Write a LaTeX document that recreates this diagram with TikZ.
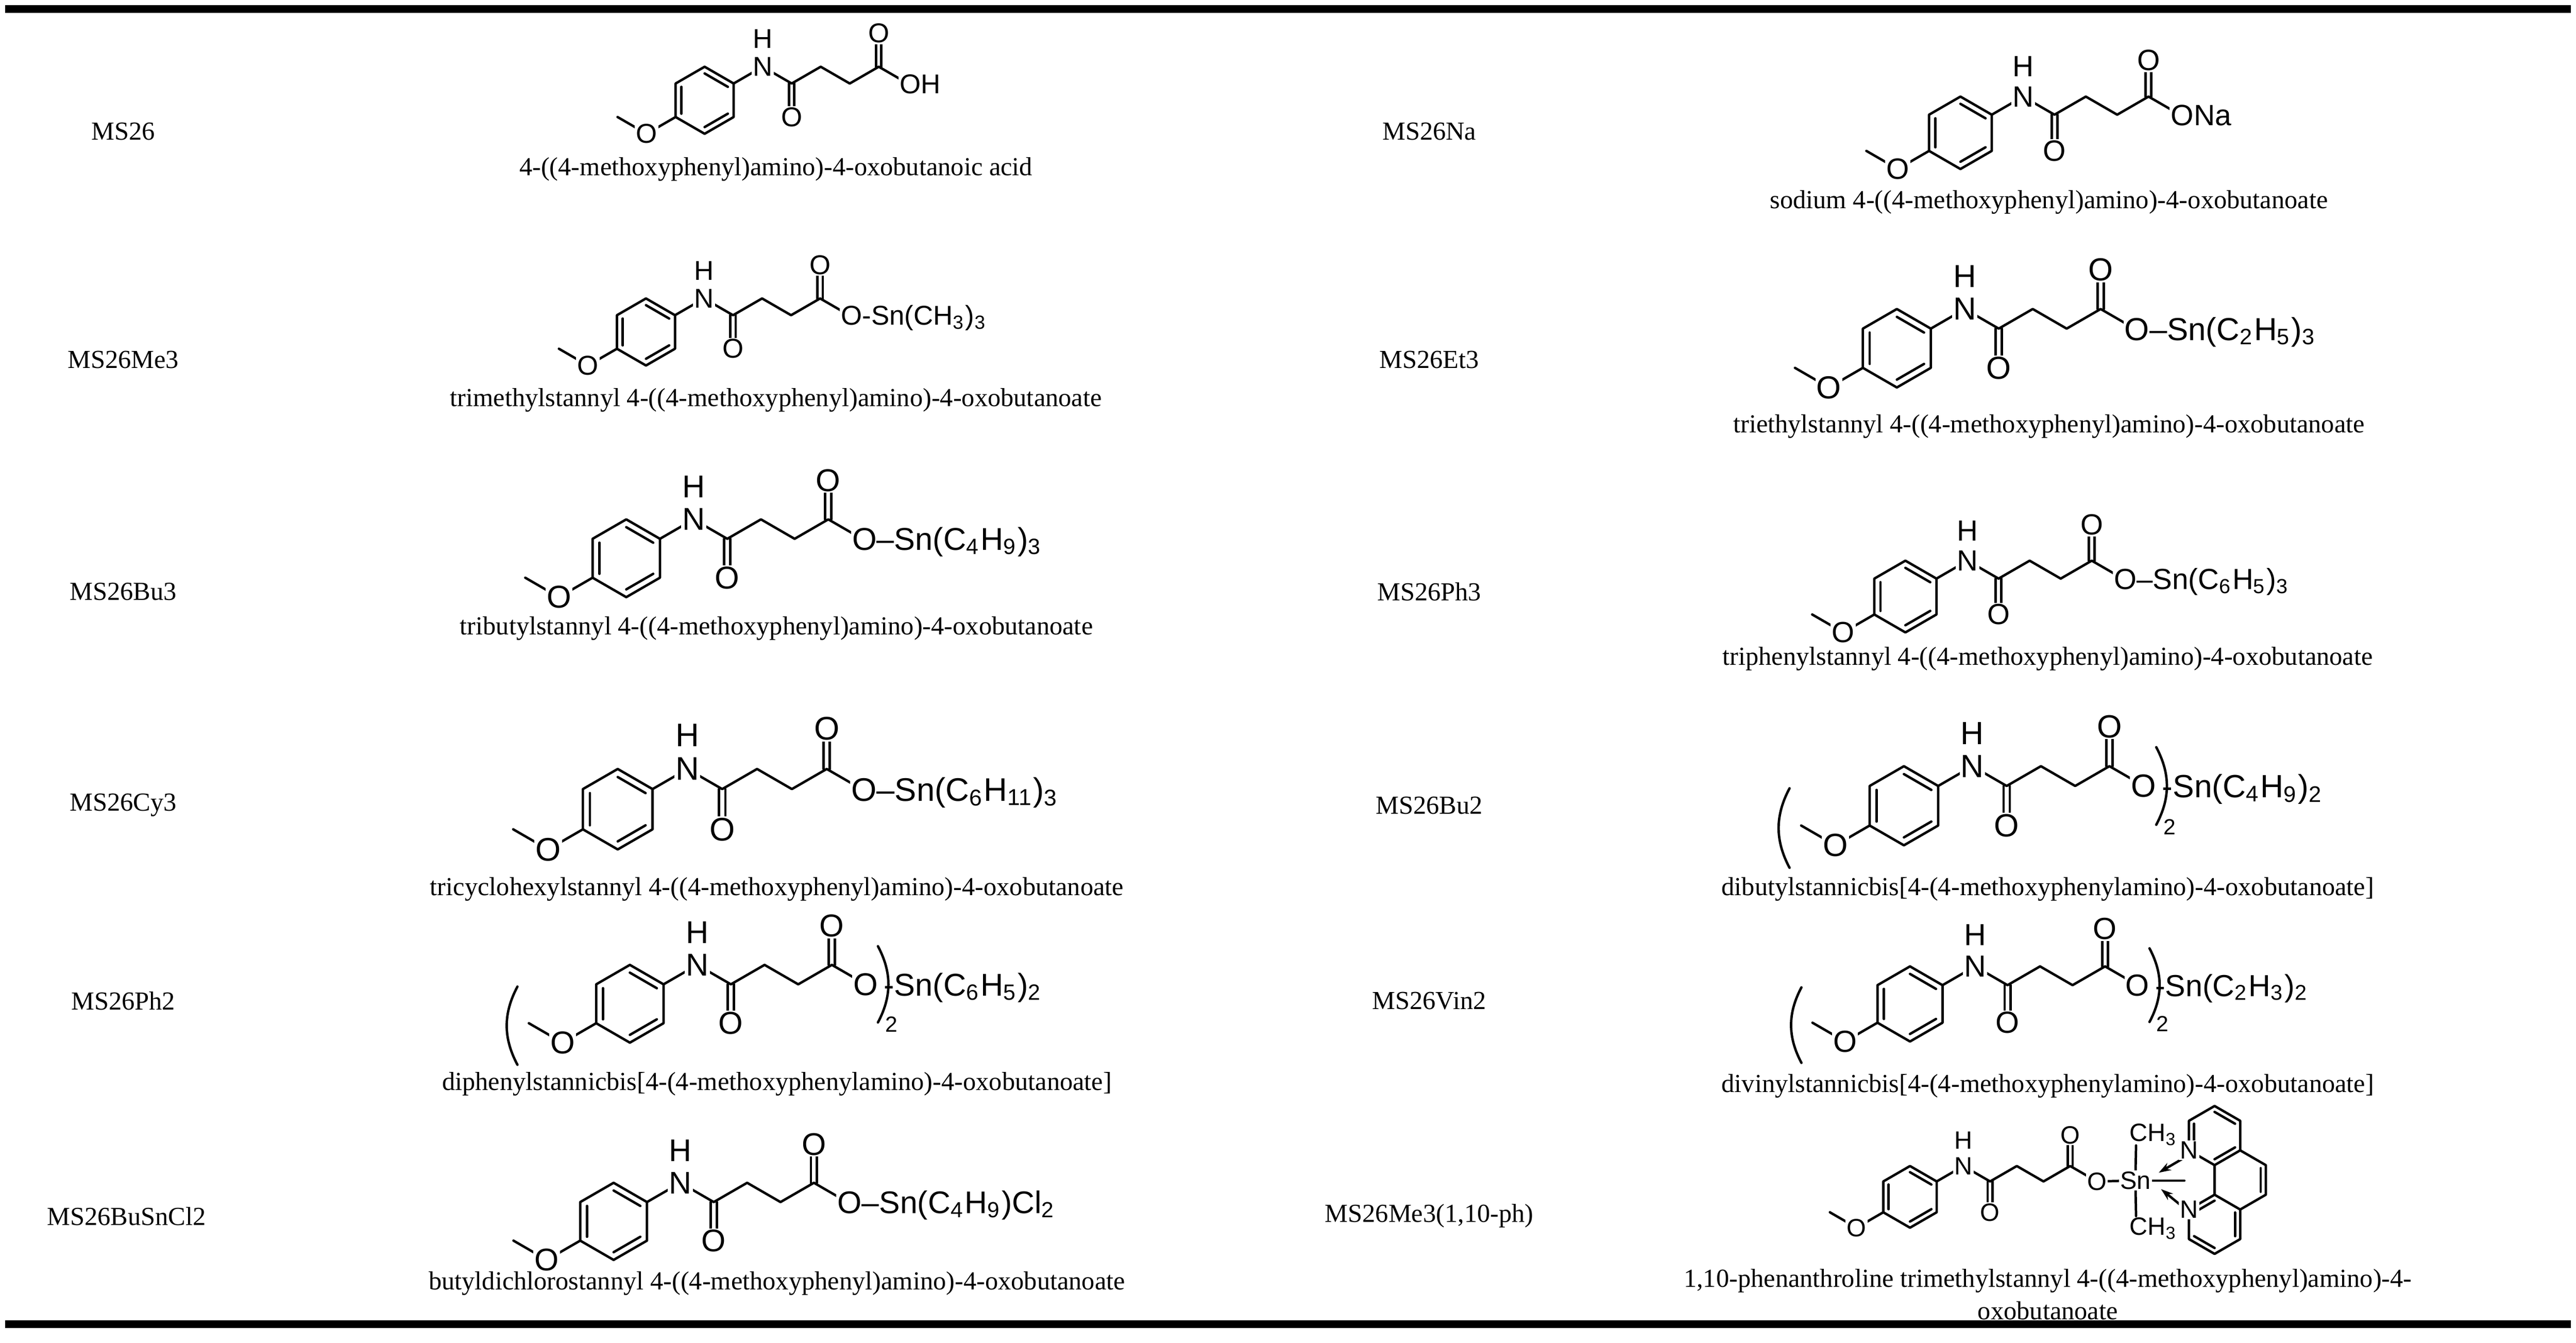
\documentclass[tikz,border=0pt]{standalone}
\usepackage{fontspec}
\setmainfont{Liberation Serif}
\setsansfont{Liberation Sans}
\usetikzlibrary{calc,arrows.meta}
\newcommand\fsz{6.7}
\tikzset{
  bond/.style={line width=0.6pt,line cap=round,line join=round},
  atom/.style={fill=white,inner sep=0.3pt,font=\fontsize{\fsz pt}{\fsz pt}\selectfont\sffamily},
  nm/.style={inner sep=0pt,font=\fontsize{6.4pt}{7pt}\selectfont},
  rule/.style={line width=2pt}
}
\newcommand\MolCore[3]{%
 \pgfmathsetmacro\fsz{6.7*#3}%
 \begin{scope}[shift={(#1,#2)},scale=#3,yscale=-1]
  \coordinate (RC) at (0,0);
  \coordinate (R1) at (90:20.4); \coordinate (R2) at (30:20.4);
  \coordinate (R3) at (-30:20.4); \coordinate (R4) at (-90:20.4);
  \coordinate (R5) at (-150:20.4); \coordinate (R6) at (150:20.4);
  \coordinate (OM) at (-35.33,-20.4); \coordinate (ME) at (-53,-10.2);
  \coordinate (N) at (35.33,20.4); \coordinate (C1) at (53,10.2);
  \coordinate (O1) at (53,-10.2); \coordinate (C2) at (70.67,20.4);
  \coordinate (C3) at (88.33,10.2); \coordinate (C4) at (106,20.4);
  \coordinate (O2) at (106,40.8); \coordinate (Oe) at (123.67,10.2);
  \draw[bond] (R1)--(R2)--(R3)--(R4)--(R5)--(R6)--cycle;
  \draw[bond] ($(RC)!0.8!(R1)$)--($(RC)!0.8!(R2)$);
  \draw[bond] ($(RC)!0.8!(R3)$)--($(RC)!0.8!(R4)$);
  \draw[bond] ($(RC)!0.8!(R5)$)--($(RC)!0.8!(R6)$);
  \draw[bond] (R5)--(OM)--(ME);
  \draw[bond] (R2)--(N)--(C1)--(C2)--(C3)--(C4)--(Oe);
  \draw[bond] ($(C1)+(-1.6,0)$)--($(O1)+(-1.6,0)$);
  \draw[bond] ($(C1)+(1.6,0)$)--($(O1)+(1.6,0)$);
  \draw[bond] ($(C4)+(-1.6,0)$)--($(O2)+(-1.6,0)$);
  \draw[bond] ($(C4)+(1.6,0)$)--($(O2)+(1.6,0)$);
  \node[atom] (om) at (OM) {O};
  \node[atom] (n) at (N) {N};
  \node[atom] (h) at ($(N)+(0,17)$) {H};
  \node[atom] (o1) at (O1) {O};
  \node[atom] (o2) at (O2) {O};
 \end{scope}}
\newcommand\Tail[2]{\node[atom,anchor=base west] at ($(Oe)+({-6.2*#1},{6*#1})$) {#2};}
\newcommand\Bis[2]{%
 \node[atom] at (Oe) {O};
 \draw[bond] ($(Oe)+({6.5*#1},{-20*#1})$) to[bend left=28] ($(Oe)+({6.5*#1},{20*#1})$);
 \draw[bond] ($(RC)+({-59*#1},{-9*#1})$) to[bend right=28] ($(RC)+({-59*#1},{32*#1})$);
 \node[atom,fill=none,font=\fontsize{5.4pt}{6pt}\selectfont\sffamily] at ($(Oe)+({13.5*#1},{21*#1})$) {2};
 \node[atom,fill=none,anchor=base west] at ($(Oe)+({8.5*#1},{6*#1})$) {-#2};}
\begin{document}
\begin{tikzpicture}[x=0.4046pt,y=-0.4046pt]
\useasboundingbox (0,0) rectangle (1568,817.1);
\draw[rule] (3,5.5) -- (1565,5.5);
\draw[rule] (3,805.8) -- (1565,805.8);
% labels
\node[nm] (l1) at (75,80) {MS26};
\node[nm] (l2) at (75,219) {MS26Me3};
\node[nm] (l3) at (75,360) {MS26Bu3};
\node[nm] (l4) at (75,490) {MS26Cy3};
\node[nm] (l5) at (75,609) {MS26Ph2};
\node[nm] (l6) at (77,740) {MS26BuSnCl2};
\node[nm] (r1) at (870,80) {MS26Na};
\node[nm] (r2) at (870,219) {MS26Et3};
\node[nm] (r3) at (870,360) {MS26Ph3};
\node[nm] (r4) at (870,490) {MS26Bu2};
\node[nm] (r5) at (870,609) {MS26Vin2};
\node[nm] (r6) at (870,740) {MS26Me3(1,10-ph)};
% names
\node[nm] (n1) at (472.3,103) {4-((4-methoxyphenyl)amino)-4-oxobutanoic acid};
\node[nm] (n2) at (472.3,243.4) {trimethylstannyl 4-((4-methoxyphenyl)amino)-4-oxobutanoate};
\node[nm] (n3) at (472.6,382.5) {tributylstannyl 4-((4-methoxyphenyl)amino)-4-oxobutanoate};
\node[nm] (n4) at (472.9,541) {tricyclohexylstannyl 4-((4-methoxyphenyl)amino)-4-oxobutanoate};
\node[nm] (n5) at (472.9,659.7) {diphenylstannicbis[4-(4-methoxyphenylamino)-4-oxobutanoate]};
\node[nm] (n6) at (472.9,781) {butyldichlorostannyl 4-((4-methoxyphenyl)amino)-4-oxobutanoate};
\node[nm] (m1) at (1247.2,123) {sodium 4-((4-methoxyphenyl)amino)-4-oxobutanoate};
\node[nm] (m2) at (1247.2,259.5) {triethylstannyl 4-((4-methoxyphenyl)amino)-4-oxobutanoate};
\node[nm] (m3) at (1246.4,401) {triphenylstannyl 4-((4-methoxyphenyl)amino)-4-oxobutanoate};
\node[nm] (m4) at (1246.5,541) {dibutylstannicbis[4-(4-methoxyphenylamino)-4-oxobutanoate]};
\node[nm] (m5) at (1246.5,661) {divinylstannicbis[4-(4-methoxyphenylamino)-4-oxobutanoate]};
\node[nm] (m6) at (1246.5,779.5) {1,10-phenanthroline trimethylstannyl 4-((4-methoxyphenyl)amino)-4-};
\node[nm] (m7) at (1246.5,797.5) {oxobutanoate};
% molecules
\MolCore{428.9}{61}{1}\Tail{1}{OH}
\MolCore{393.2}{202}{1}\Tail{1}{O-Sn(CH\textsubscript{3})\textsubscript{3}}
\MolCore{381.2}{339.7}{1.16}\Tail{1.16}{O–Sn(C\textsubscript{4}H\textsubscript{9})\textsubscript{3}}
\MolCore{376}{492.4}{1.2}\Tail{1.2}{O–Sn(C\textsubscript{6}H\textsubscript{11})\textsubscript{3}}
\MolCore{383.4}{610.8}{1.16}\Bis{1.16}{Sn(C\textsubscript{6}H\textsubscript{5})\textsubscript{2}}
\MolCore{373.5}{743.2}{1.15}\Tail{1.15}{O–Sn(C\textsubscript{4}H\textsubscript{9})Cl\textsubscript{2}}
\MolCore{1193.3}{80.8}{1.08}\Tail{1.08}{ONa}
\MolCore{1154.6}{211.9}{1.17}\Tail{1.17}{O–Sn(C\textsubscript{2}H\textsubscript{5})\textsubscript{3}}
\MolCore{1159.8}{363}{1.07}\Tail{1.07}{O–Sn(C\textsubscript{6}H\textsubscript{5})\textsubscript{3}}
\MolCore{1158.9}{490.3}{1.18}\Bis{1.18}{Sn(C\textsubscript{4}H\textsubscript{9})\textsubscript{2}}
\MolCore{1162.6}{610.9}{1.12}\Bis{1.12}{Sn(C\textsubscript{2}H\textsubscript{3})\textsubscript{2}}
\MolCore{1162.6}{728.3}{0.92}
% phenanthroline complex
\coordinate (SN) at (1299.8,718.4);
\coordinate (U) at (1348,691); \coordinate (M) at (1363.6,718); \coordinate (L) at (1348,745);
\foreach \P in {U,M,L}{
  \foreach \a [count=\i] in {90,30,-30,-90,-150,150}{
    \coordinate (\P\i) at ($(\P)+({18*cos(\a)},{-18*sin(\a)})$);}}
\draw[bond] (Oe) -- (SN);
\draw[bond] (SN) -- (1300.2,697);
\draw[bond] (SN) -- (1300.2,740);
\draw[bond] (SN) -- (1329.6,718.4);
\draw[bond] (U1)--(U2)--(U3)--(U4)--(U5)--(U6)--cycle;
\draw[bond] (L1)--(L2)--(L3)--(L4)--(L5)--(L6)--cycle;
\draw[bond] (M1)--(M2)--(M3)--(M4);
\draw[bond] (U4)--(L1);
\draw[bond] ($(U)!0.8!(U5)$)--($(U)!0.8!(U6)$);
\draw[bond] ($(U)!0.8!(U1)$)--($(U)!0.8!(U2)$);
\draw[bond] ($(U)!0.8!(U3)$)--($(U)!0.8!(U4)$);
\draw[bond] ($(M)!0.8!(M2)$)--($(M)!0.8!(M3)$);
\draw[bond] ($(L)!0.8!(L6)$)--($(L)!0.8!(L1)$);
\draw[bond] ($(L)!0.8!(L5)$)--($(L)!0.8!(L4)$);
\draw[bond] ($(L)!0.8!(L3)$)--($(L)!0.8!(L2)$);
\draw[bond,-{Stealth[length=3pt,width=2pt]}] (1328,705.4) -- (1314,713.6);
\draw[bond,-{Stealth[length=3pt,width=2pt]}] (1326.7,732.8) -- (1315.4,723.6);
\node[atom] (pn1) at (U5) {N};
\node[atom] (pn2) at (L6) {N};
\node[atom] (po) at (Oe) {O};
\node[atom] (psn) at (SN) {Sn};
\node[atom,fill=none,anchor=base west] (pc1) at (1295,694.5) {CH\textsubscript{3}};
\node[atom,fill=none,anchor=base west] (pc2) at (1295,751.5) {CH\textsubscript{3}};
\end{tikzpicture}
\end{document}
